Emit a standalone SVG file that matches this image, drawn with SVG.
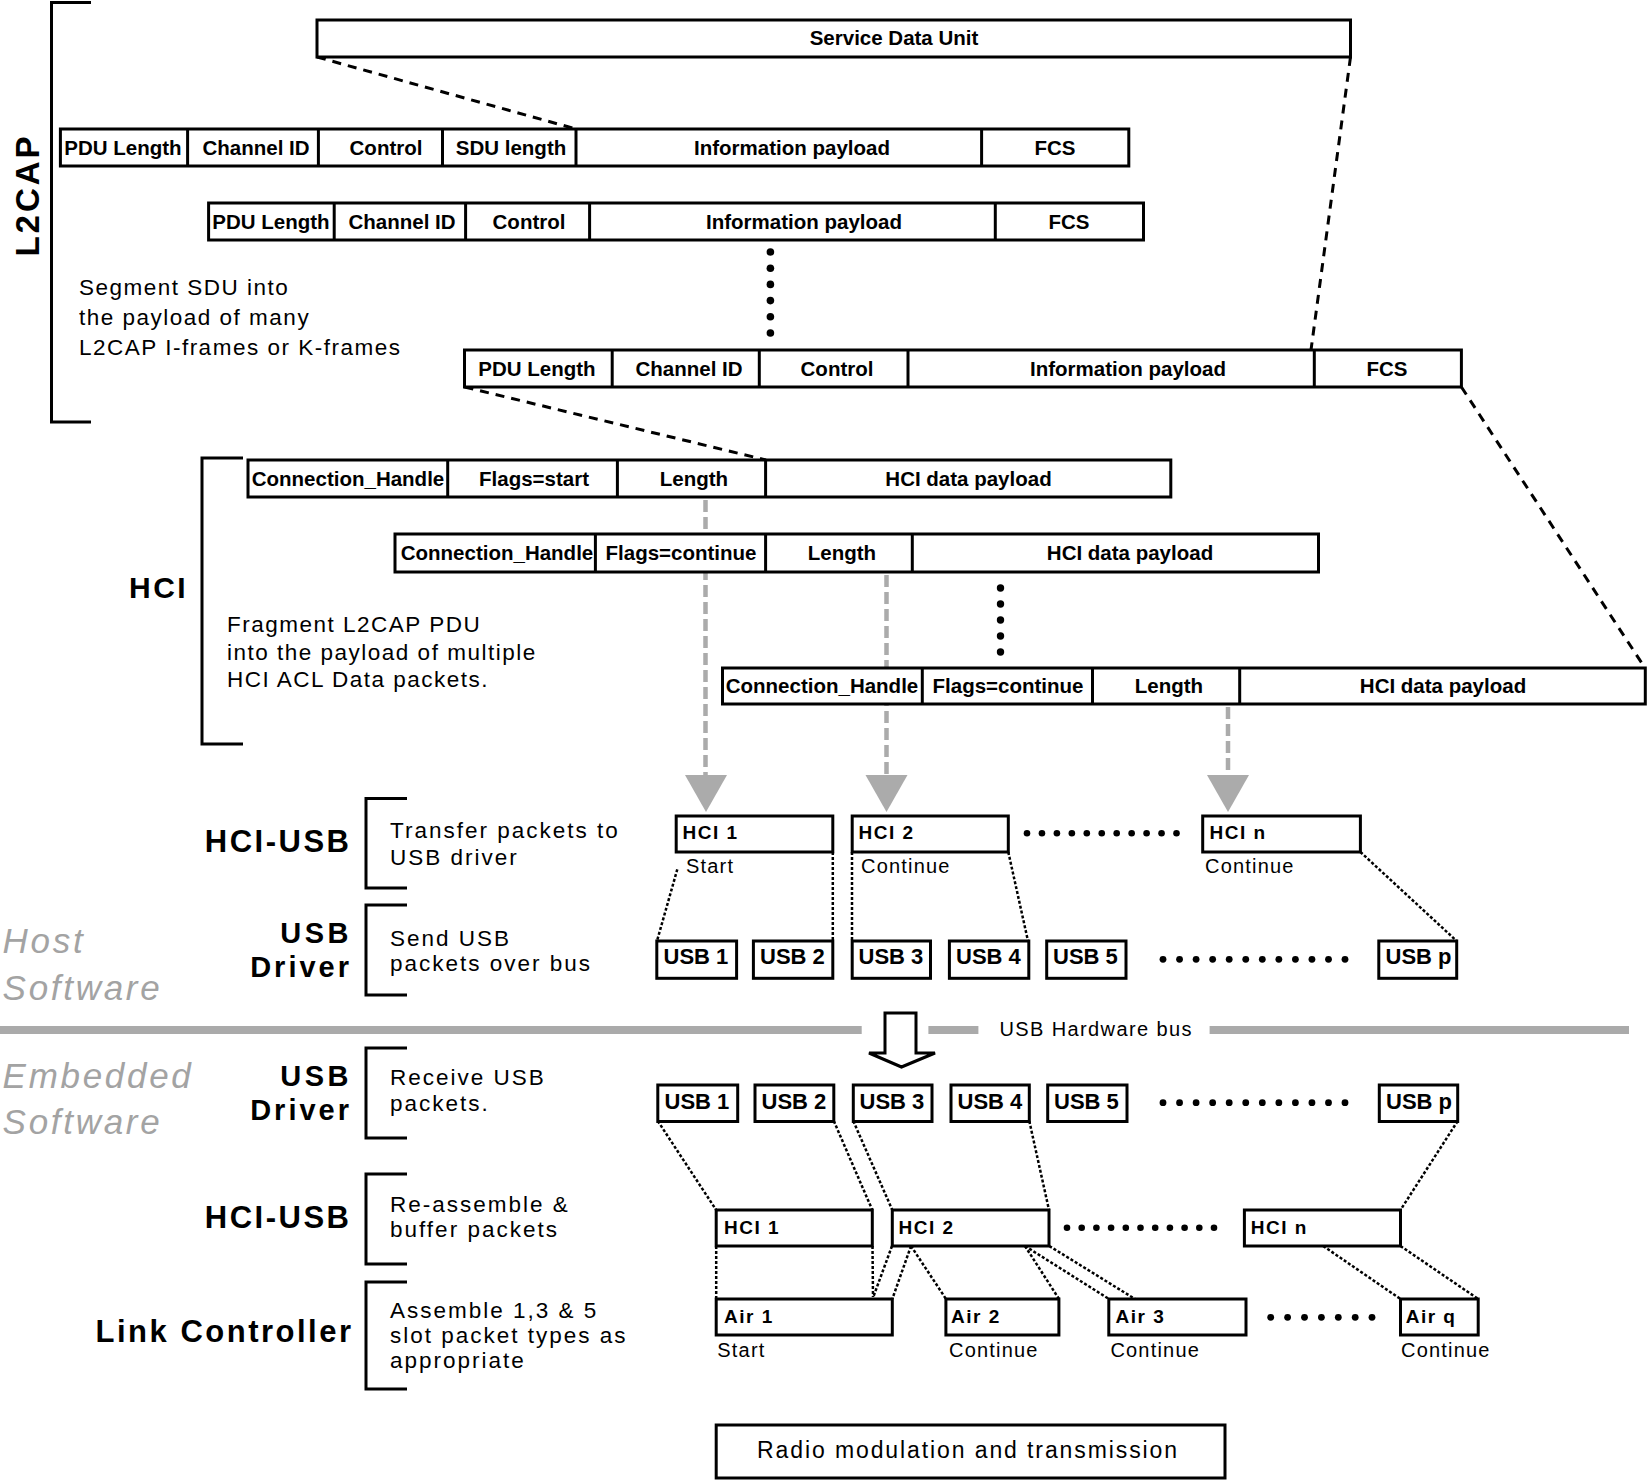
<svg xmlns="http://www.w3.org/2000/svg" width="1648" height="1480" viewBox="0 0 1648 1480">
<style>
.box{fill:#fff;stroke:#000;stroke-width:3}
.dv{stroke:#000;stroke-width:3}
.cell{font-family:"Liberation Sans",Arial,sans-serif;font-weight:bold;font-size:20.5px;text-anchor:middle}
.dash{fill:none;stroke:#000;stroke-width:3;stroke-dasharray:9 7}
.dot{fill:none;stroke:#000;stroke-width:2.5;stroke-dasharray:3 2}
.gdash{fill:none;stroke:#ababab;stroke-width:4.5;stroke-dasharray:12 5}
.ghead{fill:#ababab}
.brk{fill:none;stroke:#000;stroke-width:3}
.desc{font-family:"Liberation Sans",Arial,sans-serif;font-size:22.5px;letter-spacing:2px}
.desc2{font-family:"Liberation Sans",Arial,sans-serif;font-size:22.5px;letter-spacing:1.5px}
.layer{font-family:"Liberation Sans",Arial,sans-serif;font-weight:bold;font-size:31px;letter-spacing:2.5px;text-anchor:end}
.drv{font-family:"Liberation Sans",Arial,sans-serif;font-weight:bold;font-size:29px;letter-spacing:3px;text-anchor:end}
.side{font-family:"Liberation Sans",Arial,sans-serif;font-style:italic;font-size:35px;letter-spacing:2.7px;fill:#a3a3a3}
.lbl{font-family:"Liberation Sans",Arial,sans-serif;font-weight:bold;font-size:19px;letter-spacing:1.5px}
.usb{font-family:"Liberation Sans",Arial,sans-serif;font-weight:bold;font-size:22px}
.sub{font-family:"Liberation Sans",Arial,sans-serif;font-size:20px;letter-spacing:1.2px}
.dt{fill:#000}
.bus{fill:#aaa}
</style>

<g id="connectors">
  <line class="dash" x1="317" y1="57" x2="576" y2="129"/>
  <line class="dash" x1="1350.5" y1="57" x2="1311" y2="350"/>
  <line class="dash" x1="464.5" y1="387" x2="766" y2="460"/>
  <line class="dash" x1="1461.4" y1="387" x2="1645" y2="668"/>

  <line class="gdash" x1="705.5" y1="500" x2="705.5" y2="776"/>
  <polygon class="ghead" points="685,775 727,775 706,812"/>
  <line class="gdash" x1="886.5" y1="575" x2="886.5" y2="776"/>
  <polygon class="ghead" points="865.5,775 907.5,775 886.5,812"/>
  <line class="gdash" x1="1228" y1="707" x2="1228" y2="776"/>
  <polygon class="ghead" points="1207,775 1249,775 1228,812"/>

  <line class="dot" x1="677.3" y1="869.3" x2="657" y2="941"/>
  <line class="dot" x1="832.8" y1="852" x2="832.8" y2="941"/>
  <line class="dot" x1="852" y1="852" x2="852" y2="941"/>
  <line class="dot" x1="1008.3" y1="852" x2="1028" y2="941"/>
  <line class="dot" x1="1360.4" y1="852" x2="1456.7" y2="941"/>

  <line class="dot" x1="657.8" y1="1121" x2="716.2" y2="1210"/>
  <line class="dot" x1="833.8" y1="1121" x2="872.3" y2="1210"/>
  <line class="dot" x1="853.3" y1="1121" x2="892.3" y2="1210"/>
  <line class="dot" x1="1029.3" y1="1121" x2="1049" y2="1210"/>
  <line class="dot" x1="1457.7" y1="1121" x2="1400.5" y2="1210"/>

  <line class="dot" x1="716.2" y1="1246" x2="716.2" y2="1299"/>
  <line class="dot" x1="872.5" y1="1246" x2="873" y2="1297"/>
  <line class="dot" x1="892" y1="1246" x2="873.3" y2="1297"/>
  <line class="dot" x1="911" y1="1246" x2="892.3" y2="1299"/>
  <line class="dot" x1="911" y1="1246" x2="946" y2="1299"/>
  <line class="dot" x1="1025" y1="1246" x2="1059" y2="1299"/>
  <line class="dot" x1="1025" y1="1246" x2="1109" y2="1299"/>
  <line class="dot" x1="1049.3" y1="1246" x2="1135" y2="1299"/>
  <line class="dot" x1="1323.2" y1="1246" x2="1400.5" y2="1299"/>
  <line class="dot" x1="1400.5" y1="1246" x2="1478.2" y2="1299"/>

  <polygon points="885,1013 916,1013 916,1053 935,1053 901.5,1067 869,1053 885,1053" fill="#fff" stroke="#000" stroke-width="3"/>
</g>

<g id="brackets">
  <path class="brk" d="M91,2.5 H51.5 V422 H91"/>
  <path class="brk" d="M243,458 H202 V744 H243"/>
  <path class="brk" d="M407,798.5 H366 V888 H407"/>
  <path class="brk" d="M407,905 H366 V995 H407"/>
  <path class="brk" d="M407,1048 H366 V1138 H407"/>
  <path class="brk" d="M407,1174 H366 V1264 H407"/>
  <path class="brk" d="M407,1282 H366 V1389 H407"/>
</g>

<g id="labels">
  <text class="layer" transform="translate(39,195) rotate(-90)" x="0" y="0" style="font-size:33px;letter-spacing:3px;text-anchor:middle">L2CAP</text>
  <text class="layer" x="129" y="598" style="font-size:30px;text-anchor:start">HCI</text>
  <text class="desc2"><tspan x="79" y="295">Segment SDU into</tspan><tspan x="79" y="325">the payload of many</tspan><tspan x="79" y="355">L2CAP I-frames or K-frames</tspan></text>
  <text class="desc2"><tspan x="227" y="632">Fragment L2CAP PDU</tspan><tspan x="227" y="659.5">into the payload of multiple</tspan><tspan x="227" y="687">HCI ACL Data packets.</tspan></text>

  <text class="layer" x="351.5" y="852">HCI-USB</text>
  <text class="drv" x="352" y="943" style="letter-spacing:3.5px">USB</text>
  <text class="drv" x="352" y="977">Driver</text>
  <text class="drv" x="352" y="1085.5" style="letter-spacing:3.5px">USB</text>
  <text class="drv" x="352" y="1119.5">Driver</text>
  <text class="layer" x="351.5" y="1228">HCI-USB</text>
  <text class="layer" x="353.5" y="1342">Link Controller</text>

  <text class="side"><tspan x="2.6" y="953">Host</tspan><tspan x="2.6" y="1000">Software</tspan></text>
  <text class="side"><tspan x="2.6" y="1088">Embedded</tspan><tspan x="2.6" y="1134">Software</tspan></text>

  <text class="desc"><tspan x="390" y="838">Transfer packets to</tspan><tspan x="390" y="865">USB driver</tspan></text>
  <text class="desc"><tspan x="390" y="946">Send USB</tspan><tspan x="390" y="971">packets over bus</tspan></text>
  <text class="desc"><tspan x="390" y="1085">Receive USB</tspan><tspan x="390" y="1111">packets.</tspan></text>
  <text class="desc"><tspan x="390" y="1212">Re-assemble &amp;</tspan><tspan x="390" y="1237">buffer packets</tspan></text>
  <text class="desc"><tspan x="390" y="1318">Assemble 1,3 &amp; 5</tspan><tspan x="390" y="1343">slot packet types as</tspan><tspan x="390" y="1368">appropriate</tspan></text>
</g>

<g id="sdu">
  <rect class="box" x="317" y="20" width="1033.5" height="37"/>
  <text class="cell" x="894" y="45">Service Data Unit</text>
</g>

<g id="l2cap-frame-1">
  <rect class="box" x="60.4" y="129" width="1068.4" height="37"/>
  <line class="dv" x1="187.6" y1="129" x2="187.6" y2="166"/>
  <line class="dv" x1="318.4" y1="129" x2="318.4" y2="166"/>
  <line class="dv" x1="442.5" y1="129" x2="442.5" y2="166"/>
  <line class="dv" x1="576" y1="129" x2="576" y2="166"/>
  <line class="dv" x1="981.6" y1="129" x2="981.6" y2="166"/>
  <text class="cell" x="123" y="155">PDU Length</text>
  <text class="cell" x="256" y="155">Channel ID</text>
  <text class="cell" x="386" y="155">Control</text>
  <text class="cell" x="511" y="155">SDU length</text>
  <text class="cell" x="792" y="155">Information payload</text>
  <text class="cell" x="1055" y="155">FCS</text>
</g>

<g id="l2cap-frame-2">
  <rect class="box" x="208.6" y="203" width="934.9" height="37"/>
  <line class="dv" x1="334.2" y1="203" x2="334.2" y2="240"/>
  <line class="dv" x1="465.6" y1="203" x2="465.6" y2="240"/>
  <line class="dv" x1="589.6" y1="203" x2="589.6" y2="240"/>
  <line class="dv" x1="995.3" y1="203" x2="995.3" y2="240"/>
  <text class="cell" x="271" y="229">PDU Length</text>
  <text class="cell" x="402" y="229">Channel ID</text>
  <text class="cell" x="529" y="229">Control</text>
  <text class="cell" x="804" y="229">Information payload</text>
  <text class="cell" x="1069" y="229">FCS</text>
</g>

<g id="l2cap-dots">
  <circle class="dt" cx="770.4" cy="252" r="3.8"/>
  <circle class="dt" cx="770.4" cy="268.2" r="3.8"/>
  <circle class="dt" cx="770.4" cy="284.4" r="3.8"/>
  <circle class="dt" cx="770.4" cy="300.6" r="3.8"/>
  <circle class="dt" cx="770.4" cy="316.8" r="3.8"/>
  <circle class="dt" cx="770.4" cy="333" r="3.8"/>
</g>

<g id="l2cap-frame-n">
  <rect class="box" x="464.5" y="350" width="996.9" height="37"/>
  <line class="dv" x1="612.2" y1="350" x2="612.2" y2="387"/>
  <line class="dv" x1="759.3" y1="350" x2="759.3" y2="387"/>
  <line class="dv" x1="908" y1="350" x2="908" y2="387"/>
  <line class="dv" x1="1314.3" y1="350" x2="1314.3" y2="387"/>
  <text class="cell" x="537" y="376">PDU Length</text>
  <text class="cell" x="689" y="376">Channel ID</text>
  <text class="cell" x="837" y="376">Control</text>
  <text class="cell" x="1128" y="376">Information payload</text>
  <text class="cell" x="1387" y="376">FCS</text>
</g>

<g id="hci-packet-1">
  <rect class="box" x="248" y="460" width="922.8" height="37"/>
  <line class="dv" x1="447.7" y1="460" x2="447.7" y2="497"/>
  <line class="dv" x1="617.4" y1="460" x2="617.4" y2="497"/>
  <line class="dv" x1="765.6" y1="460" x2="765.6" y2="497"/>
  <text class="cell" x="348" y="485.5">Connection_Handle</text>
  <text class="cell" x="534" y="485.5">Flags=start</text>
  <text class="cell" x="694" y="485.5">Length</text>
  <text class="cell" x="968.5" y="485.5">HCI data payload</text>
</g>

<g id="hci-packet-2">
  <rect class="box" x="395" y="534" width="923.5" height="38"/>
  <line class="dv" x1="595.4" y1="534" x2="595.4" y2="572"/>
  <line class="dv" x1="765.6" y1="534" x2="765.6" y2="572"/>
  <line class="dv" x1="912.3" y1="534" x2="912.3" y2="572"/>
  <text class="cell" x="497" y="560">Connection_Handle</text>
  <text class="cell" x="681" y="560">Flags=continue</text>
  <text class="cell" x="842" y="560">Length</text>
  <text class="cell" x="1130" y="560">HCI data payload</text>
</g>

<g id="hci-dots">
  <circle class="dt" cx="1000.5" cy="588" r="3.7"/>
  <circle class="dt" cx="1000.5" cy="604" r="3.7"/>
  <circle class="dt" cx="1000.5" cy="620" r="3.7"/>
  <circle class="dt" cx="1000.5" cy="636" r="3.7"/>
  <circle class="dt" cx="1000.5" cy="652" r="3.7"/>
</g>

<g id="hci-packet-n">
  <rect class="box" x="722.5" y="668" width="922.8" height="36"/>
  <line class="dv" x1="922.3" y1="668" x2="922.3" y2="704"/>
  <line class="dv" x1="1092.5" y1="668" x2="1092.5" y2="704"/>
  <line class="dv" x1="1239.7" y1="668" x2="1239.7" y2="704"/>
  <text class="cell" x="822" y="693">Connection_Handle</text>
  <text class="cell" x="1008" y="693">Flags=continue</text>
  <text class="cell" x="1169" y="693">Length</text>
  <text class="cell" x="1443" y="693">HCI data payload</text>
</g>

<g id="host-hci-1">
  <rect class="box" x="676.2" y="816" width="156.6" height="36"/>
  <text class="lbl" x="682.5" y="838.5">HCI 1</text>
  <text class="sub" x="686" y="873">Start</text>
</g>
<g id="host-hci-2">
  <rect class="box" x="852.2" y="816" width="156.1" height="36"/>
  <text class="lbl" x="858.5" y="838.5">HCI 2</text>
  <text class="sub" x="861" y="873">Continue</text>
</g>
<g id="host-hci-dots">
  <circle class="dt" cx="1027" cy="833.3" r="3.3"/>
  <circle class="dt" cx="1041.95" cy="833.3" r="3.3"/>
  <circle class="dt" cx="1056.9" cy="833.3" r="3.3"/>
  <circle class="dt" cx="1071.85" cy="833.3" r="3.3"/>
  <circle class="dt" cx="1086.8" cy="833.3" r="3.3"/>
  <circle class="dt" cx="1101.75" cy="833.3" r="3.3"/>
  <circle class="dt" cx="1116.7" cy="833.3" r="3.3"/>
  <circle class="dt" cx="1131.65" cy="833.3" r="3.3"/>
  <circle class="dt" cx="1146.6" cy="833.3" r="3.3"/>
  <circle class="dt" cx="1161.55" cy="833.3" r="3.3"/>
  <circle class="dt" cx="1176.5" cy="833.3" r="3.3"/>
</g>
<g id="host-hci-n">
  <rect class="box" x="1202.7" y="816" width="157.7" height="36"/>
  <text class="lbl" x="1209.6" y="838.5">HCI n</text>
  <text class="sub" x="1205" y="873">Continue</text>
</g>

<g id="host-usb-1"><rect class="box" x="656.8" y="941" width="79.8" height="37.3"/><text class="usb" x="663.5" y="964">USB 1</text></g>
<g id="host-usb-2"><rect class="box" x="753.4" y="941" width="79.4" height="37.3"/><text class="usb" x="760" y="964">USB 2</text></g>
<g id="host-usb-3"><rect class="box" x="852.2" y="941" width="78.3" height="37.3"/><text class="usb" x="858.5" y="964">USB 3</text></g>
<g id="host-usb-4"><rect class="box" x="949.4" y="941" width="79.4" height="37.3"/><text class="usb" x="956" y="964">USB 4</text></g>
<g id="host-usb-5"><rect class="box" x="1046.7" y="941" width="79.3" height="37.3"/><text class="usb" x="1053" y="964">USB 5</text></g>
<g id="host-usb-dots">
  <circle class="dt" cx="1163" cy="959.3" r="3.4"/>
  <circle class="dt" cx="1179.55" cy="959.3" r="3.4"/>
  <circle class="dt" cx="1196.1" cy="959.3" r="3.4"/>
  <circle class="dt" cx="1212.65" cy="959.3" r="3.4"/>
  <circle class="dt" cx="1229.2" cy="959.3" r="3.4"/>
  <circle class="dt" cx="1245.75" cy="959.3" r="3.4"/>
  <circle class="dt" cx="1262.3" cy="959.3" r="3.4"/>
  <circle class="dt" cx="1278.85" cy="959.3" r="3.4"/>
  <circle class="dt" cx="1295.4" cy="959.3" r="3.4"/>
  <circle class="dt" cx="1311.95" cy="959.3" r="3.4"/>
  <circle class="dt" cx="1328.5" cy="959.3" r="3.4"/>
  <circle class="dt" cx="1345" cy="959.3" r="3.4"/>
</g>
<g id="host-usb-p"><rect class="box" x="1378.8" y="941" width="77.9" height="37.3"/><text class="usb" x="1385.5" y="964">USB p</text></g>

<g id="usb-bus">
  <rect class="bus" x="0" y="1026" width="861.7" height="8"/>
  <rect class="bus" x="928.4" y="1026" width="50" height="8"/>
  <rect class="bus" x="1209.6" y="1026" width="419.4" height="8"/>
  <text class="sub" x="999.4" y="1036" style="letter-spacing:1.4px">USB Hardware bus</text>
</g>

<g id="emb-usb-1"><rect class="box" x="657.8" y="1085" width="79.9" height="36.5"/><text class="usb" x="664.5" y="1108.5">USB 1</text></g>
<g id="emb-usb-2"><rect class="box" x="755" y="1085" width="78.8" height="36.5"/><text class="usb" x="761.5" y="1108.5">USB 2</text></g>
<g id="emb-usb-3"><rect class="box" x="853.3" y="1085" width="78.7" height="36.5"/><text class="usb" x="859.5" y="1108.5">USB 3</text></g>
<g id="emb-usb-4"><rect class="box" x="951" y="1085" width="78.3" height="36.5"/><text class="usb" x="957.5" y="1108.5">USB 4</text></g>
<g id="emb-usb-5"><rect class="box" x="1047.7" y="1085" width="79.3" height="36.5"/><text class="usb" x="1054" y="1108.5">USB 5</text></g>
<g id="emb-usb-dots">
  <circle class="dt" cx="1163" cy="1102.7" r="3.4"/>
  <circle class="dt" cx="1179.55" cy="1102.7" r="3.4"/>
  <circle class="dt" cx="1196.1" cy="1102.7" r="3.4"/>
  <circle class="dt" cx="1212.65" cy="1102.7" r="3.4"/>
  <circle class="dt" cx="1229.2" cy="1102.7" r="3.4"/>
  <circle class="dt" cx="1245.75" cy="1102.7" r="3.4"/>
  <circle class="dt" cx="1262.3" cy="1102.7" r="3.4"/>
  <circle class="dt" cx="1278.85" cy="1102.7" r="3.4"/>
  <circle class="dt" cx="1295.4" cy="1102.7" r="3.4"/>
  <circle class="dt" cx="1311.95" cy="1102.7" r="3.4"/>
  <circle class="dt" cx="1328.5" cy="1102.7" r="3.4"/>
  <circle class="dt" cx="1345" cy="1102.7" r="3.4"/>
</g>
<g id="emb-usb-p"><rect class="box" x="1379.3" y="1085" width="78.4" height="36.5"/><text class="usb" x="1386" y="1108.5">USB p</text></g>

<g id="emb-hci-1"><rect class="box" x="716.2" y="1210" width="156.1" height="36"/><text class="lbl" x="724" y="1233.5">HCI 1</text></g>
<g id="emb-hci-2"><rect class="box" x="892.3" y="1210" width="156.7" height="36"/><text class="lbl" x="898.6" y="1233.5">HCI 2</text></g>
<g id="emb-hci-dots">
  <circle class="dt" cx="1067" cy="1227.7" r="3.3"/>
  <circle class="dt" cx="1081.7" cy="1227.7" r="3.3"/>
  <circle class="dt" cx="1096.4" cy="1227.7" r="3.3"/>
  <circle class="dt" cx="1111.1" cy="1227.7" r="3.3"/>
  <circle class="dt" cx="1125.8" cy="1227.7" r="3.3"/>
  <circle class="dt" cx="1140.5" cy="1227.7" r="3.3"/>
  <circle class="dt" cx="1155.2" cy="1227.7" r="3.3"/>
  <circle class="dt" cx="1169.9" cy="1227.7" r="3.3"/>
  <circle class="dt" cx="1184.6" cy="1227.7" r="3.3"/>
  <circle class="dt" cx="1199.3" cy="1227.7" r="3.3"/>
  <circle class="dt" cx="1214" cy="1227.7" r="3.3"/>
</g>
<g id="emb-hci-n"><rect class="box" x="1244.4" y="1210" width="156.1" height="36"/><text class="lbl" x="1250.7" y="1233.5">HCI n</text></g>

<g id="air-1"><rect class="box" x="716.2" y="1299" width="176.1" height="36"/><text class="lbl" x="724" y="1322.5">Air 1</text><text class="sub" x="717.3" y="1356.7">Start</text></g>
<g id="air-2"><rect class="box" x="945.9" y="1299" width="113" height="36"/><text class="lbl" x="951" y="1322.5">Air 2</text><text class="sub" x="949" y="1356.7">Continue</text></g>
<g id="air-3"><rect class="box" x="1108.8" y="1299" width="137.2" height="36"/><text class="lbl" x="1115.6" y="1322.5">Air 3</text><text class="sub" x="1110.4" y="1356.7">Continue</text></g>
<g id="air-dots">
  <circle class="dt" cx="1270.7" cy="1317.3" r="3.4"/>
  <circle class="dt" cx="1287.6" cy="1317.3" r="3.4"/>
  <circle class="dt" cx="1304.5" cy="1317.3" r="3.4"/>
  <circle class="dt" cx="1321.4" cy="1317.3" r="3.4"/>
  <circle class="dt" cx="1338.3" cy="1317.3" r="3.4"/>
  <circle class="dt" cx="1355.2" cy="1317.3" r="3.4"/>
  <circle class="dt" cx="1372" cy="1317.3" r="3.4"/>
</g>
<g id="air-q"><rect class="box" x="1400.5" y="1299" width="77.7" height="36"/><text class="lbl" x="1405.7" y="1322.5">Air q</text><text class="sub" x="1401" y="1356.7">Continue</text></g>

<g id="radio">
  <rect class="box" x="716.2" y="1425" width="508.8" height="53"/>
  <text class="desc" x="968" y="1458" style="font-size:23px;letter-spacing:1.9px;text-anchor:middle">Radio modulation and transmission</text>
</g>
</svg>
